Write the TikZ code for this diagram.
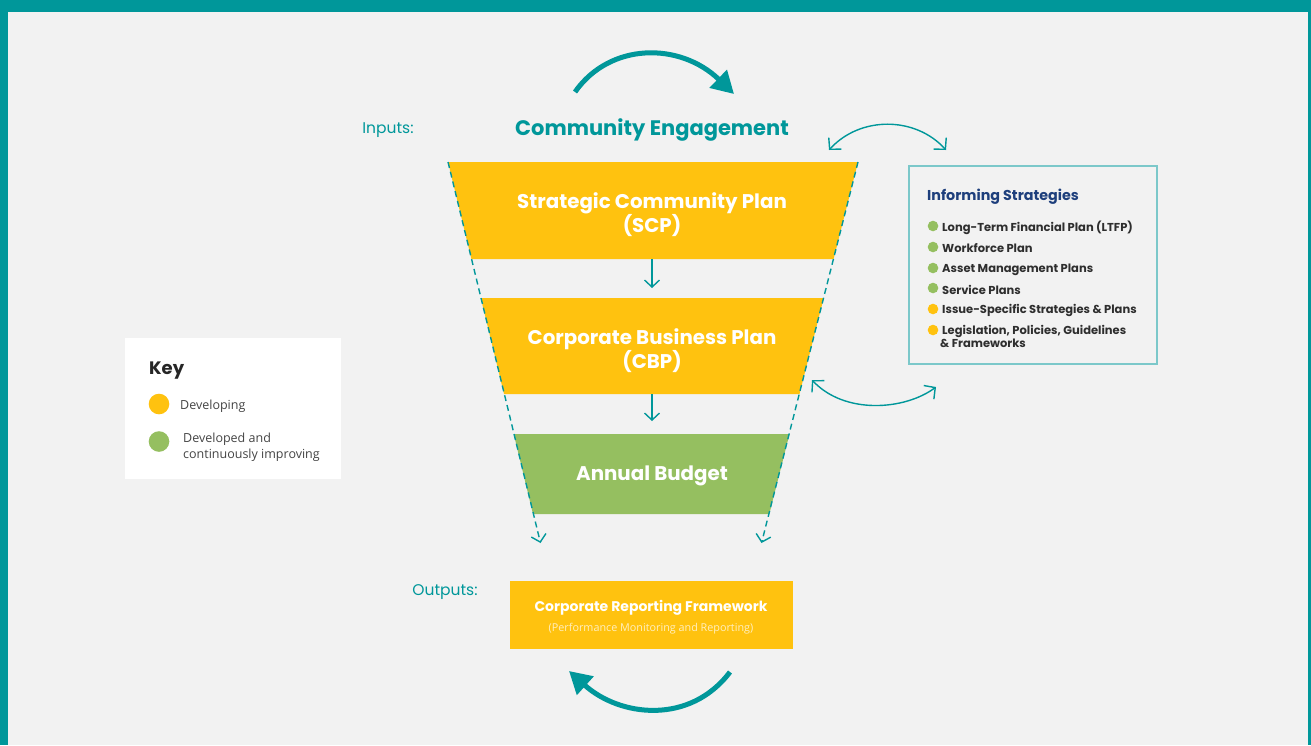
\documentclass[tikz,border=0pt]{standalone}
\usepackage{fontspec}
\setmainfont{Poppins}
\newfontfamily\keyfont{Open Sans}
\usetikzlibrary{arrows.meta}
\definecolor{cteal}{HTML}{00979A}
\definecolor{cframe}{HTML}{7CC8CA}
\definecolor{cyel}{HTML}{FFC20F}
\definecolor{cgreen}{HTML}{95BF60}
\definecolor{cbg}{HTML}{F2F2F2}
\definecolor{cblue}{HTML}{1E3F7C}
\definecolor{citem}{HTML}{2E2E2E}
\definecolor{ckey}{HTML}{444444}
\definecolor{csub}{HTML}{FFEFC0}
\tikzset{
  bigarrow/.style={cteal, line width=5pt, -{Triangle[length=22pt,width=24pt]}},
  dblarrow/.style={cteal, line width=1.4pt, {Straight Barb[length=8pt,width=17pt]}-{Straight Barb[length=8pt,width=17pt]}},
  funnelline/.style={cteal, line width=1.4pt, dash pattern=on 6pt off 4pt, -{Straight Barb[length=7pt,width=15pt]}},
  steparrow/.style={cteal, line width=1.4pt, -{Straight Barb[length=7pt,width=15pt]}},
  plantext/.style={text=white, font=\fontsize{19.8}{24}\selectfont\bfseries, align=center},
  itemtext/.style={anchor=west, text=citem, font=\fontsize{11.5}{13}\selectfont\bfseries, inner sep=0pt},
  keytext/.style={anchor=west, text=ckey, font=\keyfont\fontsize{12.5}{16}\selectfont, inner sep=0pt, align=left},
  labeltext/.style={text=cteal, font=\fontsize{15.5}{18}\selectfont, inner sep=0pt}
}
\begin{document}
\begin{tikzpicture}[x=1pt,y=-1pt]
\useasboundingbox (0,0) rectangle (1311,745);
\fill[cteal] (0,0) rectangle (1311,745);
\fill[cbg] (8,12) rectangle (1308,745);
% trapezoids
\fill[cyel] (448,162) -- (858,162) -- (833.6,259) -- (471.4,259) -- cycle;
\fill[cyel] (480.8,298) -- (823.7,298) -- (799.5,394) -- (504,394) -- cycle;
\fill[cgreen] (513.7,434) -- (789.5,434) -- (769.3,514) -- (533,514) -- cycle;
% funnel coordinates
\coordinate (ltop) at (448,162);
\coordinate (lbot) at (540.5,543);
\coordinate (rtop) at (858,162);
\coordinate (rbot) at (761.5,543);
\draw[funnelline] (ltop) -- (lbot);
\draw[funnelline] (rtop) -- (rbot);
% plan texts
\node[plantext] (scp) at (652,215) {Strategic Community Plan\\(SCP)};
\node[plantext] (cbp) at (652,350.5) {Corporate Business Plan\\(CBP)};
\node[plantext] (ab) at (652,476) {Annual Budget};
\coordinate (s1) at (652,259);
\coordinate (s2) at (652,288);
\coordinate (c1) at (652,394);
\coordinate (c2) at (652,421);
\draw[steparrow] (s1) -- (s2);
\draw[steparrow] (c1) -- (c2);
% top labels
\node[text=cteal, font=\fontsize{21}{24}\selectfont\bfseries] (ce) at (652,130) {Community Engagement};
\node[labeltext] (inp) at (388,130) {Inputs:};
\node[labeltext] (outp) at (445,592.5) {Outputs:};
% big arrows
\coordinate (ta) at (575,92);
\coordinate (tb) at (734,94);
\draw[bigarrow] (ta) .. controls (610,42) and (680,42) .. (tb);
\coordinate (ba) at (730,672);
\coordinate (bb) at (569,671);
\draw[bigarrow] (ba) .. controls (690,725) and (620,717) .. (bb);
% double arrows
\coordinate (d1) at (829,150);
\coordinate (d2) at (946,150);
\draw[dblarrow] (d1) .. controls (860,116) and (915,116) .. (d2);
\coordinate (e1) at (812,380);
\coordinate (e2) at (936,387);
\draw[dblarrow] (e1) .. controls (845,415) and (905,410) .. (e2);
% informing strategies box
\draw[cframe, line width=1.2pt] (909,166) rectangle (1157,364);
\node[anchor=west, text=cblue, font=\fontsize{14.3}{16}\selectfont\bfseries, inner sep=0pt] (ist) at (927,197) {Informing Strategies};
\fill[cgreen] (933,226) circle (5.3);
\fill[cgreen] (933,247) circle (5.3);
\fill[cgreen] (933,268) circle (5.3);
\fill[cgreen] (933,288) circle (5.3);
\fill[cyel] (933,309) circle (5.3);
\fill[cyel] (933,330) circle (5.3);
\node[itemtext] (i1) at (942,227.5) {Long-Term Financial Plan (LTFP)};
\node[itemtext] (i2) at (942,248.5) {Workforce Plan};
\node[itemtext] (i3) at (942,269.5) {Asset Management Plans};
\node[itemtext] (i4) at (942,289.5) {Service Plans};
\node[itemtext] (i5) at (942,310.5) {Issue-Specific Strategies \& Plans};
\node[itemtext] (i6) at (942,331.5) {Legislation, Policies, Guidelines};
\node[itemtext] (i7) at (940,343.5) {\& Frameworks};
% key box
\fill[white] (125,338) rectangle (341,479);
\node[anchor=west, text=black!85, font=\fontsize{18}{20}\selectfont\bfseries, inner sep=0pt] (key) at (149,371) {Key};
\fill[cyel] (159,404) circle (10.3);
\fill[cgreen] (159,441.5) circle (10.3);
\node[keytext] (k1) at (180,406.5) {Developing};
\node[keytext] (k2) at (183,447) {Developed and\\continuously improving};
% output box
\fill[cyel] (510,581) rectangle (793,649);
\node[text=white, font=\fontsize{14}{16}\selectfont\bfseries] (crf) at (651,608) {Corporate Reporting Framework};
\node[text=csub, font=\keyfont\fontsize{10.8}{12}\selectfont] (pmr) at (651,629) {(Performance Monitoring and Reporting)};
\end{tikzpicture}
\end{document}
